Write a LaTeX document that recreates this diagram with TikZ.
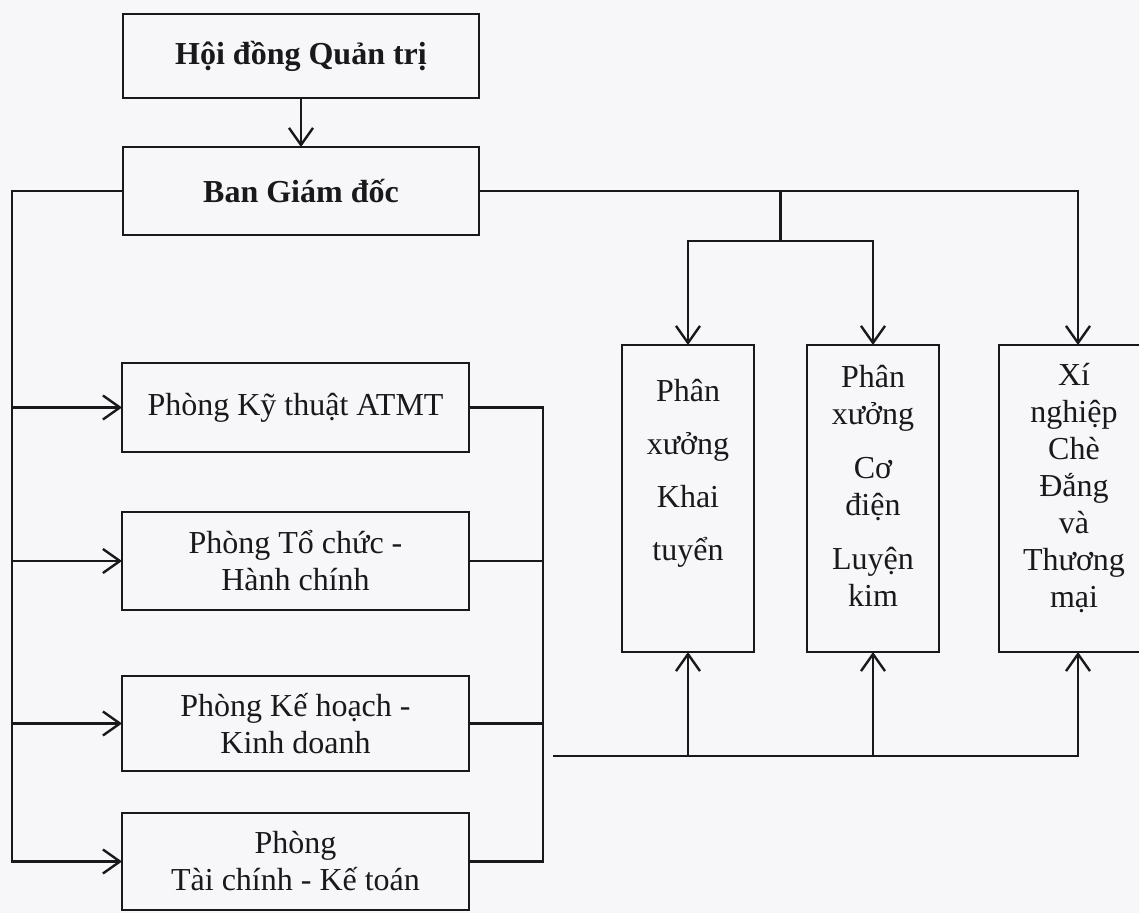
\documentclass[tikz,border=0pt]{standalone}
\usepackage{fontspec}
\setmainfont{Liberation Serif}
\usepackage{tikz}
\usetikzlibrary{arrows.meta,positioning,calc}
\usepackage{xcolor}
\definecolor{ink}  {RGB}{ 25, 25, 28}
\definecolor{paper}{RGB}{247,247,249}
\newcommand{\orgfont}{\fontsize{16}{18.5}\selectfont}
\tikzset{
  box/.style   ={rectangle,draw=ink,line width=1.2pt,outer sep=0pt,
                 inner sep=2pt,align=center,text=ink,font=\orgfont},
  topbox/.style={box,minimum width=178pt,font=\orgfont\bfseries},
  dept/.style  ={box,minimum width=173.5pt},
  unit/.style  ={box,minimum width=66pt,minimum height=153.5pt},
  utxt/.style  ={align=center,inner sep=0pt,anchor=north,
                 text=ink,font=\orgfont},
  ln/.style    ={draw=ink,line width=1.2pt},
  sig/.style   ={ln,-{Straight Barb[length=8.5pt,width=12pt]}},
}

\begin{document}
\begin{tikzpicture}[x=0.5pt,y=-0.5pt]
  \fill[paper] (0,0) rectangle (1139,913);
  \useasboundingbox (0,0) rectangle (1139,913);
  % management
  \node[topbox,minimum height=42pt] (hdqt) at (301,56) {Hội đồng Quản trị};
  \node[topbox,minimum height=44pt,below=24.5pt of hdqt] (bgd) {Ban Giám đốc};
  % departments
  \node[dept,minimum height=44.5pt] (pkt) at (295.5,407.5) {Phòng Kỹ thuật ATMT};
  \node[dept,minimum height=49pt,below=30pt of pkt]   (ptc)  {Phòng Tổ chức -\\Hành chính};
  \node[dept,minimum height=47.5pt,below=33pt of ptc] (pkh)  {Phòng Kế hoạch -\\Kinh doanh};
  \node[dept,minimum height=48.5pt,below=21pt of pkh] (ptck) {Phòng\\Tài chính - Kế toán};
  % production units
  \node[unit] (pxkt) at (688,498.5) {};
  \node[unit,right=26.5pt of pxkt] (pxcd) {};
  \node[unit,minimum width=79pt,right=30pt of pxcd] (xn) {};
  \node[utxt] (pxkt-t) at ([yshift=-17pt]pxkt.north)
        {Phân\\[8pt]xưởng\\[8pt]Khai\\[8pt]tuyển};
  \node[utxt] (pxcd-t) at ([yshift=-10pt]pxcd.north)
        {Phân\\xưởng\\[8.5pt]Cơ\\điện\\[8.5pt]Luyện\\kim};
  \node[utxt] (xn-t) at ([xshift=-2pt,yshift=-9pt]xn.north)
        {Xí\\nghiệp\\Chè\\Đắng\\và\\Thương\\mại};

  \draw[sig] (hdqt) -- (bgd);
  % left bus
  \coordinate (lb) at (12,0);
  \draw[sig] (bgd.west) -| (lb |- ptck.west) -- (ptck.west);
  \foreach \d in {pkt,ptc,pkh}
    \draw[sig] (lb |- \d.west) -- (\d.west);
  % right bus
  \coordinate (rb) at (543,0);
  \draw[ln] (pkt.east) -| (rb |- ptck.east) -- (ptck.east);
  \draw[ln] (ptc.east) -- (ptc.east -| rb);
  \draw[ln] (pkh.east) -- (pkh.east -| rb);
  % to the units
  \draw[sig] (bgd.east) -| (xn.north);
  \coordinate (br) at ($(pxkt.north)!0.5!(pxcd.north)$);
  \draw[ln] (bgd.east -| br) -- ++(0,50) coordinate (bj);
  \draw[sig] (bj) -| (pxkt.north);
  \draw[sig] (bj) -| (pxcd.north);
  % from below
  \coordinate (bl) at (553,756);
  \draw[sig] (bl) -| (xn.south);
  \draw[sig] (bl -| pxkt.south) -- (pxkt.south);
  \draw[sig] (bl -| pxcd.south) -- (pxcd.south);
\end{tikzpicture}
\end{document}
